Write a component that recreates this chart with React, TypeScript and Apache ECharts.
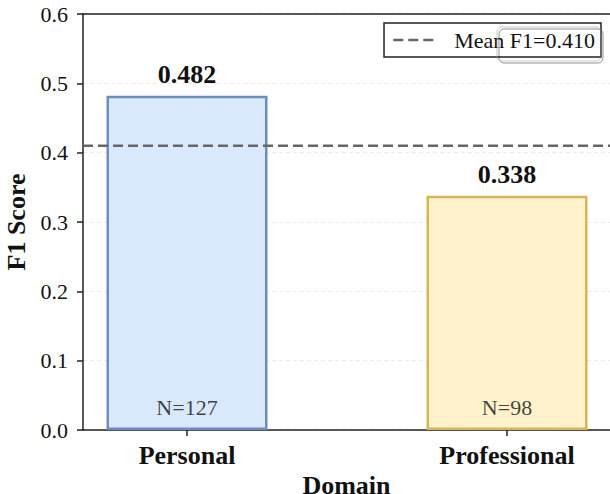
import React, { useEffect, useRef } from "react";
import * as echarts from "echarts";

const categories = ["Personal", "Professional"];
const f1Scores = [0.482, 0.338];
const sampleSizes = [127, 98];
const fillColors = ["#dae8fc", "#fff2cc"];
const borderColors = ["#6c8ebf", "#d6b656"];

const FONT = '"Liberation Serif", "Times New Roman", serif';

export default function App() {
  const ref = useRef<HTMLDivElement>(null);
  useEffect(() => {
    if (!ref.current) return;
    const chart = echarts.init(ref.current, null, { renderer: "svg" });
    const mean = f1Scores.reduce((a, b) => a + b, 0) / f1Scores.length;
    const meanName = `Mean F1=${mean.toFixed(3)}`;
    const xMin = -0.325;
    const xMax = 1.425;
    const idx = categories.map((_, i) => i);
    chart.setOption({
      animation: false,
      backgroundColor: "#ffffff",
      textStyle: { fontFamily: FONT },
      grid: {
        left: 83,
        top: 14,
        width: 560,
        height: 416,
        containLabel: false,
        outerBoundsMode: "none",
      },
      legend: {
        right: 9,
        top: 23,
        data: [{ name: meanName, itemStyle: { opacity: 0 } }],
        borderColor: "#222",
        borderWidth: 1.5,
        borderRadius: 0,
        padding: [6, 6, 6, 8],
        itemWidth: 44,
        itemHeight: 14,
        lineStyle: { width: 2.5, type: [10, 5], color: "#666666" },
        textStyle: { fontFamily: FONT, fontSize: 22, color: "#111", padding: [0, 0, 0, 12] },
        backgroundColor: "#fff",
      },
      graphic: [
        {
          type: "rect",
          z: 200,
          silent: true,
          shape: { x: 497, y: 27, width: 104, height: 34, r: 5 },
          style: {
            fill: "rgba(255,255,255,0)",
            stroke: "rgba(150,150,150,0.5)",
            lineWidth: 1,
            shadowColor: "rgba(0,0,0,0.85)",
            shadowOffsetX: 2,
            shadowOffsetY: 2,
            shadowBlur: 0,
          },
        },
      ],
      xAxis: [
        {
          type: "value",
          min: xMin,
          max: xMax,
          splitLine: { show: false },
          axisLine: { show: true, onZero: false, lineStyle: { color: "#222", width: 1.5 } },
          axisTick: {
            show: true,
            length: 6,
            lineStyle: { color: "#222", width: 1.5 },
            customValues: idx,
          },
          axisLabel: {
            customValues: idx,
            margin: 12,
            fontFamily: FONT,
            fontSize: 26,
            fontWeight: "bold",
            color: "#111",
            formatter: (v: number) => categories[Math.round(v)] ?? "",
          },
          name: "Domain",
          nameLocation: "middle",
          nameGap: 37,
          nameTextStyle: {
            fontFamily: FONT,
            fontSize: 26,
            fontWeight: "bold",
            color: "#111",
            padding: [0, 33, 0, 0],
          },
        },
        {
          type: "value",
          position: "top",
          min: xMin,
          max: xMax,
          splitLine: { show: false },
          axisLine: { show: true, onZero: false, lineStyle: { color: "#222", width: 1.5 } },
          axisTick: { show: false },
          axisLabel: { show: false },
        },
      ],
      yAxis: {
        type: "value",
        min: 0,
        max: 0.6,
        interval: 0.1,
        axisLine: { show: true, onZero: false, lineStyle: { color: "#222", width: 1.5 } },
        axisTick: { show: true, length: 6, lineStyle: { color: "#222", width: 1.5 } },
        axisLabel: {
          margin: 15,
          fontFamily: FONT,
          fontSize: 22,
          color: "#111",
          formatter: (v: number) => v.toFixed(1),
        },
        splitLine: {
          show: true,
          lineStyle: { color: "#e6e6e6", width: 0.8, type: [4, 3] },
        },
        name: "F1 Score",
        nameLocation: "middle",
        nameGap: 52,
        nameTextStyle: { fontFamily: FONT, fontSize: 26, fontWeight: "bold", color: "#111" },
      },
      series: [
        {
          type: "bar",
          barWidth: 161,
          z: 2,
          data: f1Scores.map((v, i) => ({
            value: [i, v],
            itemStyle: {
              color: fillColors[i],
              borderColor: borderColors[i],
              borderWidth: 2.5,
            },
          })),
          label: {
            show: true,
            position: "top",
            distance: 8,
            fontFamily: FONT,
            fontSize: 26,
            fontWeight: "bold",
            color: "#111",
            formatter: (p: any) => p.value[1].toFixed(3),
          },
        },
        {
          type: "scatter",
          symbolSize: 0,
          z: 4,
          silent: true,
          data: sampleSizes.map((n, i) => [i, 0]),
          label: {
            show: true,
            position: "top",
            distance: 12,
            fontFamily: FONT,
            fontSize: 22,
            color: "#111",
            formatter: (p: any) => `N=${sampleSizes[p.dataIndex]}`,
          },
        },
        {
          type: "line",
          name: meanName,
          symbol: "none",
          z: 5,
          lineStyle: { color: "#666666", width: 2.5, type: [10, 5] },
          itemStyle: { color: "#666666" },
          data: [
            [xMin, mean],
            [xMax, mean],
          ],
        },
      ],
    });
    return () => chart.dispose();
  }, []);
  return <div ref={ref} style={{ width: 610, height: 494, position: "absolute", left: 0, top: 0 }} />;
}
